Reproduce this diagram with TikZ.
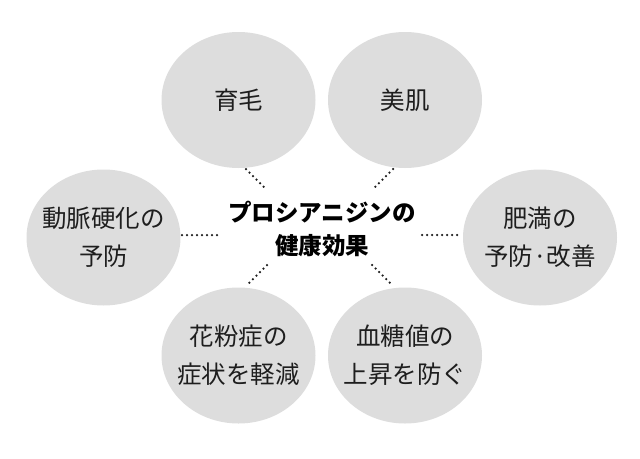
\documentclass[tikz,border=0pt]{standalone}
\usepackage{fontspec}
\setmainfont{Noto Sans CJK JP}
\usetikzlibrary{shapes.geometric}
\definecolor{bubble}{HTML}{DDDDDD}
\definecolor{ink}{HTML}{1E1E1E}
\tikzset{
  bubble/.style={ellipse, fill=bubble, draw=none, minimum width=154pt, minimum height=136pt, inner sep=0pt},
  btext/.style={text=ink, font=\fontsize{24.5pt}{38pt}\selectfont, align=center, inner sep=0pt},
  hub/.style={text=black, font=\bfseries\fontsize{23.5pt}{33pt}\selectfont, align=center, inner sep=0pt},
  dots/.style={draw=ink, line width=2.5pt, line cap=round, dash pattern=on 0pt off 5pt}
}
\begin{document}
\begin{tikzpicture}[x=1pt,y=-1pt]
\useasboundingbox[fill=white] (0,0) rectangle (640,458);
\node[bubble] (ikumou) at (238.5,100) {};
\node[bubble] (bihada) at (405,100) {};
\node[bubble] (doumyaku) at (103.5,237.5) {};
\node[bubble] (himan) at (540,237.5) {};
\node[bubble] (kafun) at (238.5,355.5) {};
\node[bubble] (kettou) at (405,355.5) {};
\node[btext] (ikumouT) at (ikumou) {育毛};
\node[btext] (bihadaT) at (bihada) {美肌};
\node[btext] (doumyakuT) at (doumyaku) {動脈硬化の\\予防};
\node[btext] (himanT) at (himan) {肥満の\\予防·改善};
\node[btext] (kafunT) at (kafun) {花粉症の\\症状を軽減};
\node[btext] (kettouT) at (kettou) {血糖値の\\上昇を防ぐ};
\node[hub] (center) at (322,229) {プロシアニジンの\\健康効果};
\coordinate (a1) at (246,169); \coordinate (a2) at (267,190);
\coordinate (b1) at (393,169); \coordinate (b2) at (372,190);
\coordinate (c1) at (182,235); \coordinate (c2) at (220,235);
\coordinate (d1) at (422,235); \coordinate (d2) at (461,235);
\coordinate (e1) at (267,265); \coordinate (e2) at (246,286);
\coordinate (f1) at (372,265); \coordinate (f2) at (393,286);
\draw[dots] (a1) -- (a2);
\draw[dots] (b1) -- (b2);
\draw[dots] (c1) -- (c2);
\draw[dots] (d1) -- (d2);
\draw[dots] (e1) -- (e2);
\draw[dots] (f1) -- (f2);
\end{tikzpicture}
\end{document}
